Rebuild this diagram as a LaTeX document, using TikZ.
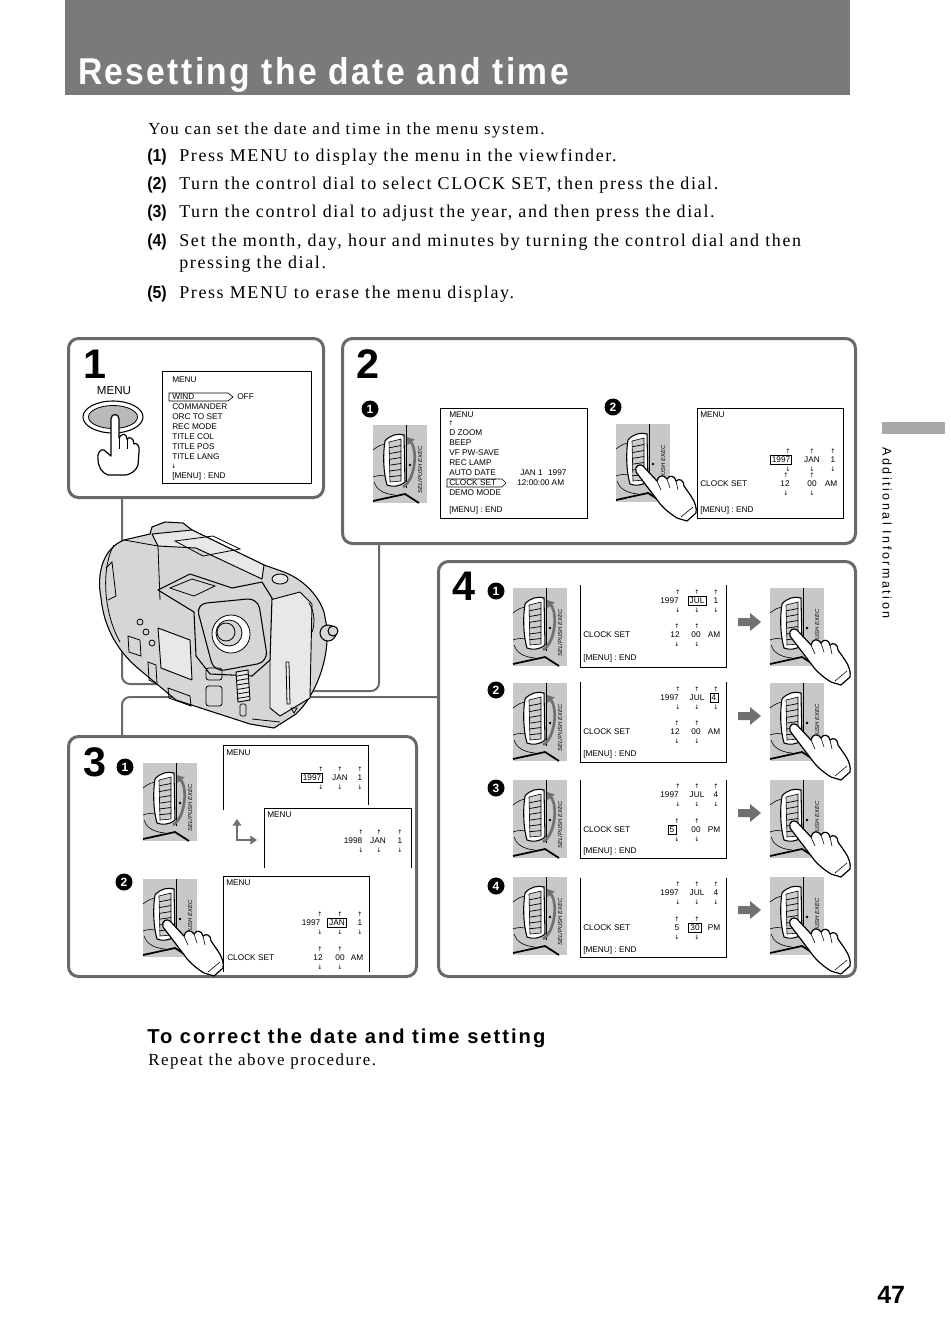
\documentclass[tikz,border=0pt]{standalone}
\usepackage{fontspec}
\usepackage{graphicx}
\usetikzlibrary{arrows.meta}
\setmainfont{Liberation Serif}
\newfontfamily\hv{Liberation Sans}
\newfontfamily\dv{DejaVu Sans}
\newfontfamily\titlef[LetterSpace=7]{Liberation Sans}
\newfontfamily\bodyf[LetterSpace=9]{Liberation Serif}
\newfontfamily\sidef[LetterSpace=20]{Liberation Sans}
\newfontfamily\headf[LetterSpace=10]{Liberation Sans}
\definecolor{headgray}{RGB}{122,121,124}
\definecolor{framegray}{RGB}{105,105,105}
\definecolor{dialbg}{RGB}{200,200,200}
\definecolor{ribgray}{RGB}{205,205,205}
\definecolor{arrgray}{RGB}{112,112,112}
\definecolor{camgray}{RGB}{214,214,214}
\definecolor{camlight}{RGB}{232,232,232}
\definecolor{sidegray}{RGB}{168,168,168}
\newcount\nc
\newcommand\tx[3][]{\global\advance\nc by 1 \node[scr,#1] (t\the\nc) at (#2) {#3};}
\newcommand\uparr[2]{\global\advance\nc by 1 \node[ua] (u\the\nc) at (#1,#2) {↑};}
\newcommand\dnarr[2]{\global\advance\nc by 1 \node[ua] (u\the\nc) at (#1,#2) {↓};}
\newcommand\udarr[2]{\uparr{#1}{#2-9}\dnarr{#1}{#2+9}}
\newcommand\cnum[3]{\global\advance\nc by 1 \node[cnumst] (c\the\nc) at (#1,#2) {#3};}
\newcommand\garrow[1]{\fill[arrgray] (738,#1-4) -- (750,#1-4) -- (750,#1-9) -- (761,#1) -- (750,#1+9) -- (750,#1+4) -- (738,#1+4) -- cycle;}
\newcommand\dialpic[3]{%
\begin{scope}[shift={(#1,#2)}]
 \fill[dialbg] (0,0) rectangle (54,78);
 \draw[line width=0.7pt] (33,0) -- (33,63);
 \draw[thinl] (0,25) .. controls (5,21) and (9,19) .. (14,19);
 \draw[thinl] (0,52) .. controls (5,50) and (10,50) .. (15,52);
 \draw[thinl] (1,57) .. controls (3,64) and (10,69) .. (22,70);
 \draw[line width=0.8pt, fill=white] (12,16) .. controls (17,10) and (25,8) .. (31,10) -- (32,57) .. controls (26,62) and (19,62) .. (14,60) .. controls (10,46) and (10,28) .. (12,16) -- cycle;
 \draw[thinl, fill=ribgray] (16,17) -- (28,14) -- (28,56) -- (17,57) -- cycle;
 \foreach \k in {1,...,6} \draw[line width=0.55pt] (16.2,17+\k*5.8) -- (28,14.5+\k*6);
 \ifnum#3=0
  \draw[line width=2pt, arrgray, -{Triangle[length=5pt,width=6.5pt]}] (30,62) .. controls (42,55) and (45,26) .. (34,12);
 \fi
 \fill (37,40) circle (1.4);
 \global\advance\nc by 1
 \node[selst, rotate=90] (d\the\nc) at (47,45) {SEL/PUSH EXEC};
 \draw[line width=1.3pt] (0,76) -- (32,69) -- (46,78);
 \ifnum#3=1
  \filldraw[fill=white, draw=black, line width=0.9pt, line join=round] (20,48) .. controls (18,42) and (24,39) .. (27,42) -- (41,57) .. controls (42,51) and (48,50) .. (51,55) .. controls (53,51) and (59,51) .. (60,57) .. controls (63,54) and (68,56) .. (68,62) -- (75,72) .. controls (79,78) and (81,84) .. (80,89) -- (71,97) -- (61,94) .. controls (53,89) and (46,83) .. (42,77) -- cycle;
  \draw[thinl] (41,57) -- (45,66);
  \draw[thinl] (51,55) -- (54,64);
  \draw[thinl] (60,57) -- (62,66);
  \draw[thinl] (65,93) -- (77,83);
 \fi
\end{scope}}
\tikzset{
 scr/.style={font=\hv\fontsize{6.2}{7}\selectfont, inner sep=0pt, anchor=west},
 ua/.style={font=\dv\fontsize{4.6}{5}\selectfont, inner sep=0pt, anchor=center},
 bx/.style={draw, line width=0.5pt, inner xsep=1.2pt, inner ysep=1pt, anchor=center},
 ctr/.style={anchor=center},
 thinl/.style={line width=0.45pt},
 scrl/.style={line width=0.75pt},
 frame/.style={draw=framegray, line width=2.25pt, rounded corners=7.5pt, anchor=north west, inner sep=0pt},
 conn/.style={draw=framegray, line width=1.5pt, rounded corners=6pt},
 cam/.style={fill=camgray, draw=black, line width=0.8pt, line join=round},
 caml/.style={fill=camlight, draw=black, line width=0.7pt, line join=round},
 camline/.style={draw=black, line width=0.6pt},
 cnumst/.style={circle, fill=black, text=white, font=\hv\bfseries\fontsize{9}{9}\selectfont, inner sep=0pt, minimum size=12.75pt},
 stepnum/.style={font=\hv\bfseries\fontsize{31}{31}\selectfont, inner sep=0pt, anchor=base west},
 selst/.style={font=\hv\itshape\fontsize{4.4}{5}\selectfont, inner sep=0pt},
 titlest/.style={font=\titlef\bfseries\fontsize{28}{30}\selectfont, text=white, inner sep=0pt, anchor=base west},
 body/.style={font=\bodyf\fontsize{13.5}{16}\selectfont, inner sep=0pt, anchor=base west},
 bodys/.style={font=\bodyf\fontsize{12.7}{15}\selectfont, inner sep=0pt, anchor=base west},
 numf/.style={font=\hv\bfseries\fontsize{13}{14}\selectfont, inner sep=0pt, anchor=base west},
 headst/.style={font=\headf\bfseries\fontsize{15.1}{17}\selectfont, inner sep=0pt, anchor=base west},
 sidest/.style={font=\sidef\fontsize{9.4}{10}\selectfont, inner sep=0pt},
 pnum/.style={font=\hv\bfseries\fontsize{18.75}{20}\selectfont, inner sep=0pt, anchor=base west},
}
\newcommand\sn[1]{\scalebox{0.92}[1]{#1}}
\begin{document}
\begin{tikzpicture}[x=0.75pt,y=-0.75pt]
\useasboundingbox (0,0) rectangle (950,1342);
\fill[white] (0,0) rectangle (950,1342);
% header
\fill[headgray] (65,0) rectangle (850,95);
\node[titlest] (title) at (78,84) {\scalebox{0.9}[1]{Resetting the date and time}};
% body text
\node[bodys] (p0) at (148,134) {You can set the date and time in the menu system.};
\node[numf] (n1) at (147,161) {\sn{(1)}};
\node[body] (p1) at (179,161) {Press MENU to display the menu in the viewfinder.};
\node[numf] (n2) at (147,189) {\sn{(2)}};
\node[body] (p2) at (179,189) {Turn the control dial to select CLOCK SET, then press the dial.};
\node[numf] (n3) at (147,217) {\sn{(3)}};
\node[body] (p3) at (179,217) {Turn the control dial to adjust the year, and then press the dial.};
\node[numf] (n4) at (147,246) {\sn{(4)}};
\node[body] (p4) at (179,246) {Set the month, day, hour and minutes by turning the control dial and then};
\node[body] (p4b) at (179,268) {pressing the dial.};
\node[numf] (n5) at (147,298) {\sn{(5)}};
\node[body] (p5) at (179,298) {Press MENU to erase the menu display.};
% side tab
\fill[sidegray] (882,422) rectangle (945,434);
\node[sidest, rotate=-90] (side) at (887,533) {Additional Information};
% frames
\node[frame, minimum width=191.25pt, minimum height=119.25pt] (b1) at (67,337) {};
\node[frame, minimum width=384.75pt, minimum height=153.75pt] (b2) at (341,337) {};
\node[frame, minimum width=261pt, minimum height=180pt] (b3) at (67,735) {};
\node[frame, minimum width=312.75pt, minimum height=311.25pt] (b4) at (437,560) {};
% connectors
\coordinate (camL) at (215,684);
\coordinate (camR) at (300,691);
\coordinate (j4) at (437,697);
\draw[conn] ([xshift=41.25pt]b1.south west) |- (camL);
\draw[conn] ([xshift=28.5pt]b2.south west) |- (camR);
\draw[conn] ([xshift=41.25pt]b3.north west) |- (j4);
% camera
\filldraw[cam] (101,598) .. controls (96,572) and (104,548) .. (124,540) -- (150,534) -- (152,527) -- (165,522) -- (183,523) -- (192,530) -- (264,565) -- (284,572) .. controls (302,579) and (318,594) .. (324,612) -- (327,628) .. controls (329,660) and (316,695) .. (296,714) -- (274,728) -- (250,724) -- (176,700) -- (140,670) .. controls (118,652) and (104,628) .. (101,598) -- cycle;
\draw[camline] (114,545) .. controls (102,565) and (102,610) .. (120,642);
\draw[camline] (106,568) -- (112,562) -- (116,596) -- (108,600);
\filldraw[caml] (152,534) -- (192,530) -- (264,565) -- (262,579) -- (196,548) -- (158,546) -- cycle;
\draw[camline] (124,540) -- (158,546) -- (160,600);
\draw[camline] (175,541) -- (213,536) -- (240,549) -- (203,556) -- cycle;
\filldraw[caml] (280,579) ellipse (8 and 5);
\filldraw[caml] (270,600) -- (300,592) -- (312,604) -- (310,698) -- (280,716) -- (270,708) -- cycle;
\draw[camline] (286,662) -- (289,662) -- (290,704) -- (287,704) -- cycle;
\draw[camline] (291,708) -- (297,708) -- (294,713) -- cycle;
\filldraw[cam] (158,590) -- (190,574) -- (232,588) -- (262,582) -- (272,598) -- (270,660) -- (252,676) -- (210,674) -- (196,656) -- (194,612) -- cycle;
\draw[camline] (170,588) -- (192,579) -- (215,586) -- (194,596) -- cycle;
\filldraw[cam, rounded corners=8pt] (196,604) -- (258,598) -- (268,662) -- (214,672) -- cycle;
\filldraw[fill=white, camline] (231,634) circle (19);
\filldraw[fill=camgray, camline] (229,633) circle (13);
\draw[camline] (226,632) circle (9);
\filldraw[cam] (328,633) circle (8);
\filldraw[cam] (333,631) circle (5);
\draw[camline] (309,603) .. controls (315,612) and (315,625) .. (312,632);
\filldraw[caml] (158,628) -- (190,640) -- (192,680) -- (161,668) -- cycle;
\draw[camline] (140,622) circle (3);
\draw[camline] (146,632) circle (3);
\draw[camline] (152,643) circle (3);
\draw[camline] (128,636) -- (140,640) -- (141,656) -- (129,652) -- cycle;
\draw[camline] (148,662) -- (156,665) -- (157,684) -- (149,680) -- cycle;
\draw[camline] (168,688) -- (190,696) -- (191,706) -- (169,698) -- cycle;
\filldraw[caml] (236,672) -- (248,670) -- (250,700) -- (238,702) -- cycle;
\foreach \k in {0,...,5} \draw[camline] (237,676+\k*4.5) -- (249,674+\k*4.5);
\draw[camline, rounded corners=1pt] (240,704) rectangle (246,716);
\draw[camline, rounded corners=2pt] (206,668) rectangle (222,680);
\draw[camline, rounded corners=2pt] (206,686) rectangle (222,706);
\draw[camline] (252,719) -- (280,722);
% step numbers
\node[stepnum] (s1) at (83,378) {1};
\node[stepnum] (s2) at (356,378) {2};
\node[stepnum] (s3) at (83,776) {3};
\node[stepnum] (s4) at (452,600) {4};
% ---------- box 1
\node[font=\hv\fontsize{8.7}{9}\selectfont, inner sep=0pt] (menulab) at (114,391) {MENU};
\filldraw[fill=white, draw=black, line width=0.8pt] (113,417) ellipse (30 and 16);
\filldraw[fill=gray!55, draw=black, line width=0.6pt] (113,417) ellipse (24.5 and 11.5);
\filldraw[fill=white, draw=black, line width=0.9pt, line join=round] (111,443) -- (111,419) .. controls (111,413) and (119,413) .. (119,419) -- (119,438) .. controls (121,433) and (127,433) .. (127,439) .. controls (129,436) and (134,438) .. (134,444) .. controls (136,442) and (140,445) .. (139,452) -- (138,465) .. controls (136,471) and (131,474) .. (126,475) -- (108,475) .. controls (102,473) and (98,467) .. (98,459) .. controls (97,452) and (101,449) .. (104,450) -- (111,456) -- cycle;
\draw[thinl] (119,438) -- (119,449);
\draw[thinl] (127,439) -- (127,449);
\draw[scrl] (162,371) rectangle (311,483);
\tx{172,380}{MENU}
\draw[line width=0.5pt] (169,393) -- (228,393) -- (233,397) -- (228,401) -- (169,401) -- cycle;
\tx{172,397}{WIND}
\tx{237,397}{OFF}
\tx{172,407}{COMMANDER}
\tx{172,417}{ORC TO SET}
\tx{172,427}{REC MODE}
\tx{172,437}{TITLE COL}
\tx{172,447}{TITLE POS}
\tx{172,457}{TITLE LANG}
\dnarr{174}{466}
\tx{172,476}{[MENU] : END}
% ---------- box 2
\cnum{370}{409}{1}
\cnum{613}{407}{2}
\dialpic{373}{425}{0}
\dialpic{616}{424}{1}
\draw[scrl] (440,408) rectangle (587,518);
\tx{449,415}{MENU}
\uparr{451}{423}
\tx{449,433}{D ZOOM}
\tx{449,443}{BEEP}
\tx{449,453}{VF PW-SAVE}
\tx{449,463}{REC LAMP}
\tx{449,473}{AUTO DATE}
\draw[line width=0.5pt] (447,479) -- (502,479) -- (506,483) -- (502,487) -- (447,487) -- cycle;
\tx{449,483}{CLOCK SET}
\tx{449,493}{DEMO MODE}
\tx{449,510}{[MENU] : END}
\tx{520,473}{JAN 1\hspace{4pt}1997}
\tx{517,483}{12:00:00 AM}
\draw[scrl] (697,408) rectangle (843,518);
\tx{700,415}{MENU}
\tx[bx]{781,460}{1997} \udarr{788}{460}
\tx[ctr]{812,460}{JAN} \udarr{812}{460}
\tx[ctr]{833,460}{1} \udarr{833}{460}
\tx{700,484}{CLOCK SET}
\tx[ctr]{785,484}{12} \udarr{786}{484}
\tx[ctr]{812,484}{00} \udarr{812}{484}
\tx[ctr]{831,484}{AM}
\tx{700,510}{[MENU] : END}
% ---------- box 3
\cnum{125}{767}{1}
\cnum{124}{882}{2}
\dialpic{143}{763}{0}
\dialpic{143}{879}{1}
\draw[scrl] (223,810) -- (223,745) -- (368,745) -- (368,805);
\tx{226,753}{MENU}
\tx[bx]{312,778}{1997} \udarr{321}{778}
\tx[ctr]{340,778}{JAN} \udarr{340}{778}
\tx[ctr]{360,778}{1} \udarr{360}{778}
\draw[scrl] (264,868) -- (264,808) -- (411,808) -- (411,868);
\tx{267,815}{MENU}
\tx[ctr]{353,841}{1998} \udarr{361}{841}
\tx[ctr]{378,841}{JAN} \udarr{379}{841}
\tx[ctr]{400,841}{1} \udarr{400}{841}
\draw[arrgray, line width=2.2pt, {Triangle[length=5pt,width=6.5pt]}-{Triangle[length=5pt,width=6.5pt]}] (237,819) -- (237,840) -- (257,840);
\draw[scrl] (223,972) -- (223,876) -- (369,876) -- (369,972);
\tx{226,883}{MENU}
\tx[ctr]{311,923}{1997} \udarr{320}{923}
\tx[bx]{337,923}{JAN} \udarr{340}{923}
\tx[ctr]{360,923}{1} \udarr{360}{923}
\tx{227,958}{CLOCK SET}
\tx[ctr]{318,958}{12} \udarr{320}{958}
\tx[ctr]{340,958}{00} \udarr{340}{958}
\tx[ctr]{357,958}{AM}
% ---------- box 4
\cnum{496}{591}{1}
\cnum{496}{690}{2}
\cnum{496}{788}{3}
\cnum{496}{886}{4}
\dialpic{513}{588}{0}
\dialpic{513}{683}{0}
\dialpic{513}{780}{0}
\dialpic{513}{877}{0}
\dialpic{770}{588}{1}
\dialpic{770}{683}{1}
\dialpic{770}{780}{1}
\dialpic{770}{877}{1}
\garrow{622}
\garrow{716}
\garrow{813}
\garrow{910}
% row 1
\draw[scrl] (580,585) -- (580,667) -- (726,667) -- (726,585);
\tx[anchor=east]{679,601}{1997} \udarr{678}{601}
\tx[bx]{697,601}{JUL} \udarr{697}{601}
\tx[ctr]{716,601}{1} \udarr{716}{601}
\tx{583,635}{CLOCK SET}
\tx[ctr]{675,635}{12} \udarr{677}{635}
\tx[ctr]{696,635}{00} \udarr{697}{635}
\tx[ctr]{714,635}{AM}
\tx{583,658}{[MENU] : END}
% row 2
\draw[scrl] (580,682) -- (580,762) -- (726,762) -- (726,682);
\tx[anchor=east]{679,698}{1997} \udarr{678}{698}
\tx[ctr]{697,698}{JUL} \udarr{697}{698}
\tx[bx]{714,698}{4} \udarr{716}{698}
\tx{583,732}{CLOCK SET}
\tx[ctr]{675,732}{12} \udarr{677}{732}
\tx[ctr]{696,732}{00} \udarr{697}{732}
\tx[ctr]{714,732}{AM}
\tx{583,754}{[MENU] : END}
% row 3
\draw[scrl] (580,780) -- (580,858) -- (726,858) -- (726,780);
\tx[anchor=east]{679,795}{1997} \udarr{678}{795}
\tx[ctr]{697,795}{JUL} \udarr{697}{795}
\tx[ctr]{716,795}{4} \udarr{716}{795}
\tx{583,830}{CLOCK SET}
\tx[bx]{672,830}{5} \udarr{677}{830}
\tx[ctr]{696,830}{00} \udarr{697}{830}
\tx[ctr]{714,830}{PM}
\tx{583,851}{[MENU] : END}
% row 4
\draw[scrl] (580,878) -- (580,957) -- (726,957) -- (726,878);
\tx[anchor=east]{679,893}{1997} \udarr{678}{893}
\tx[ctr]{697,893}{JUL} \udarr{697}{893}
\tx[ctr]{716,893}{4} \udarr{716}{893}
\tx{583,928}{CLOCK SET}
\tx[ctr]{677,928}{5} \udarr{677}{928}
\tx[bx]{695,928}{30} \udarr{697}{928}
\tx[ctr]{714,928}{PM}
\tx{583,950}{[MENU] : END}
% bottom
\node[headst] (h2) at (147,1043) {To correct the date and time setting};
\node[bodys] (rep) at (148,1065) {Repeat the above procedure.};
\node[pnum] (pg) at (877,1303) {47};
\end{tikzpicture}
\end{document}
